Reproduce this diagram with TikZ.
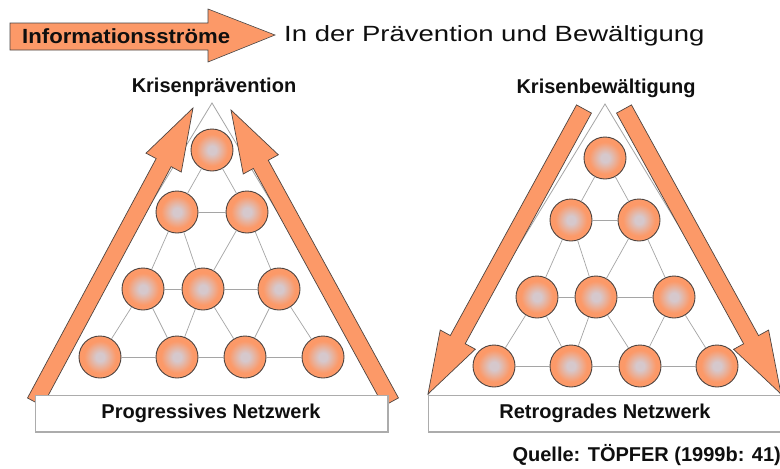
\documentclass[tikz,border=0pt]{standalone}
\usepackage{fontspec}
\setmainfont{Liberation Sans}
\newfontfamily\widefont[FakeStretch=1.25]{Liberation Sans}
\newfontfamily\broadbold[FakeStretch=1.08]{Liberation Sans Bold}
\usetikzlibrary{calc}

\definecolor{petal}{RGB}{252,153,104}
\definecolor{pale}{RGB}{214,200,204}
\definecolor{rim}{RGB}{78,68,64}
\definecolor{wire}{RGB}{165,165,165}
\definecolor{ink}{RGB}{15,15,15}

\pgfdeclareradialshading{bloom}{\pgfpoint{0bp}{0bp}}{%
  color(0bp)=(pale);color(5bp)=(pale);color(19bp)=(petal);color(50bp)=(petal)}

\tikzset{
  cell/.style={circle, minimum size=42pt, inner sep=0pt, shade, shading=bloom,
    draw=rim, line width=0.9pt},
  link/.style={draw=wire, line width=0.7pt},
  outline/.style={draw=wire, line width=0.8pt},
  flow/.style={fill=petal, draw=rim, line width=0.7pt, line join=miter},
  tag/.style={font=\bfseries\fontsize{20}{24}\selectfont, text=ink, inner sep=0pt},
  basebox/.style={draw=gray!65, fill=white, line width=1pt},
}

% a broad block arrow from #1 (tail) to #2 (tip)
\newcommand\flowarrow[2]{%
  \coordinate (neck) at ($(#2)!62pt!(#1)$);
  \draw[flow] ($(#1)!8.5pt!90:(#2)$) -- ($(neck)!8.5pt!90:(#2)$)
    -- ($(neck)!20pt!90:(#2)$) -- (#2) -- ($(neck)!20pt!-90:(#2)$)
    -- ($(neck)!8.5pt!-90:(#2)$) -- ($(#1)!8.5pt!-90:(#2)$) -- cycle;
}

\begin{document}
\begin{tikzpicture}[x=1pt,y=-1pt]
\useasboundingbox[fill=white] (0,0) rectangle (780,469);

% ---------- title ----------
\draw[flow, draw=gray!55!black, line width=0.6pt]
  (10,23) -- (208,23) -- (208,9) -- (275,35) -- (208,62) -- (208,50) -- (10,50) -- cycle;
\node[anchor=west, inner sep=0pt, text=ink, font=\broadbold\fontsize{20.5}{24}\selectfont] (flowtitle) at (22,36) {Informationsstr\"ome};
\node[anchor=west, inner sep=0pt, text=ink, font=\widefont\fontsize{22}{26}\selectfont] (subtitle) at (284,36)
  {In der Pr\"avention und Bew\"altigung};

% ---------- left: progressive network ----------
\coordinate (apexL) at (212,103);
\coordinate (cornerLL) at (35,395);
\coordinate (cornerLR) at (387,395);
\draw[outline] (cornerLL) -- (apexL) -- (cornerLR);

\node[cell] (L1) at (212,150) {};
\node[cell] (L2) at (177,212) {};
\node[cell] (L3) at (247,212) {};
\node[cell] (L4) at (143,289) {};
\node[cell] (L5) at (203,289) {};
\node[cell] (L6) at (279,289) {};
\node[cell] (L7) at (100,357) {};
\node[cell] (L8) at (177,357) {};
\node[cell] (L9) at (245,357) {};
\node[cell] (L10) at (323,357) {};

\foreach \a/\b in {L1/L2,L1/L3,L2/L3,L2/L4,L2/L5,L3/L5,L3/L6,L4/L5,L5/L6,
                   L4/L7,L4/L8,L5/L8,L5/L9,L6/L9,L6/L10,L7/L8,L8/L9,L9/L10}
  \draw[link] (\a) -- (\b);

\coordinate (tailLa) at (35,402);
\coordinate (tipLa) at (193,108);
\coordinate (tailLb) at (391,402);
\coordinate (tipLb) at (231,110);
\flowarrow{tailLa}{tipLa}
\flowarrow{tailLb}{tipLb}

\node[tag] (topL) at (214,87) {Krisenpr\"avention};
\draw[basebox] (35,395) rectangle (387,432);
\draw[gray!65, line width=2pt] (35,432) -- (388,432) -- (388,395);
\node[tag] (baseL) at (211,413) {Progressives Netzwerk};

% ---------- right: retrograde network ----------
\coordinate (apexR) at (605,104);
\coordinate (cornerRL) at (428,395);
\coordinate (cornerRR) at (781,395);
\draw[outline] (cornerRL) -- (apexR) -- (cornerRR);

\node[cell] (R1) at (605,158) {};
\node[cell] (R2) at (571,220) {};
\node[cell] (R3) at (639,220) {};
\node[cell] (R4) at (537,297) {};
\node[cell] (R5) at (596,297) {};
\node[cell] (R6) at (674,297) {};
\node[cell] (R7) at (494,366) {};
\node[cell] (R8) at (571,366) {};
\node[cell] (R9) at (640,366) {};
\node[cell] (R10) at (717,366) {};

\foreach \a/\b in {R1/R2,R1/R3,R2/R3,R2/R4,R2/R5,R3/R5,R3/R6,R4/R5,R5/R6,
                   R4/R7,R4/R8,R5/R8,R5/R9,R6/R9,R6/R10,R7/R8,R8/R9,R9/R10}
  \draw[link] (\a) -- (\b);

\coordinate (tailRa) at (584,109);
\coordinate (tipRa) at (428,394);
\coordinate (tailRb) at (624,109);
\coordinate (tipRb) at (781,394);
\flowarrow{tailRa}{tipRa}
\flowarrow{tailRb}{tipRb}

\node[tag] (topR) at (606,88) {Krisenbew\"altigung};
\draw[basebox] (428,395) rectangle (782,432);
\draw[gray!65, line width=2pt] (428,432) -- (782,432);
\node[tag] (baseR) at (605,413) {Retrogrades Netzwerk};

% ---------- source ----------
\node[tag, anchor=east] (source) at (781,455) {Quelle: T\"OPFER (1999b: 41)};
\end{tikzpicture}
\end{document}
